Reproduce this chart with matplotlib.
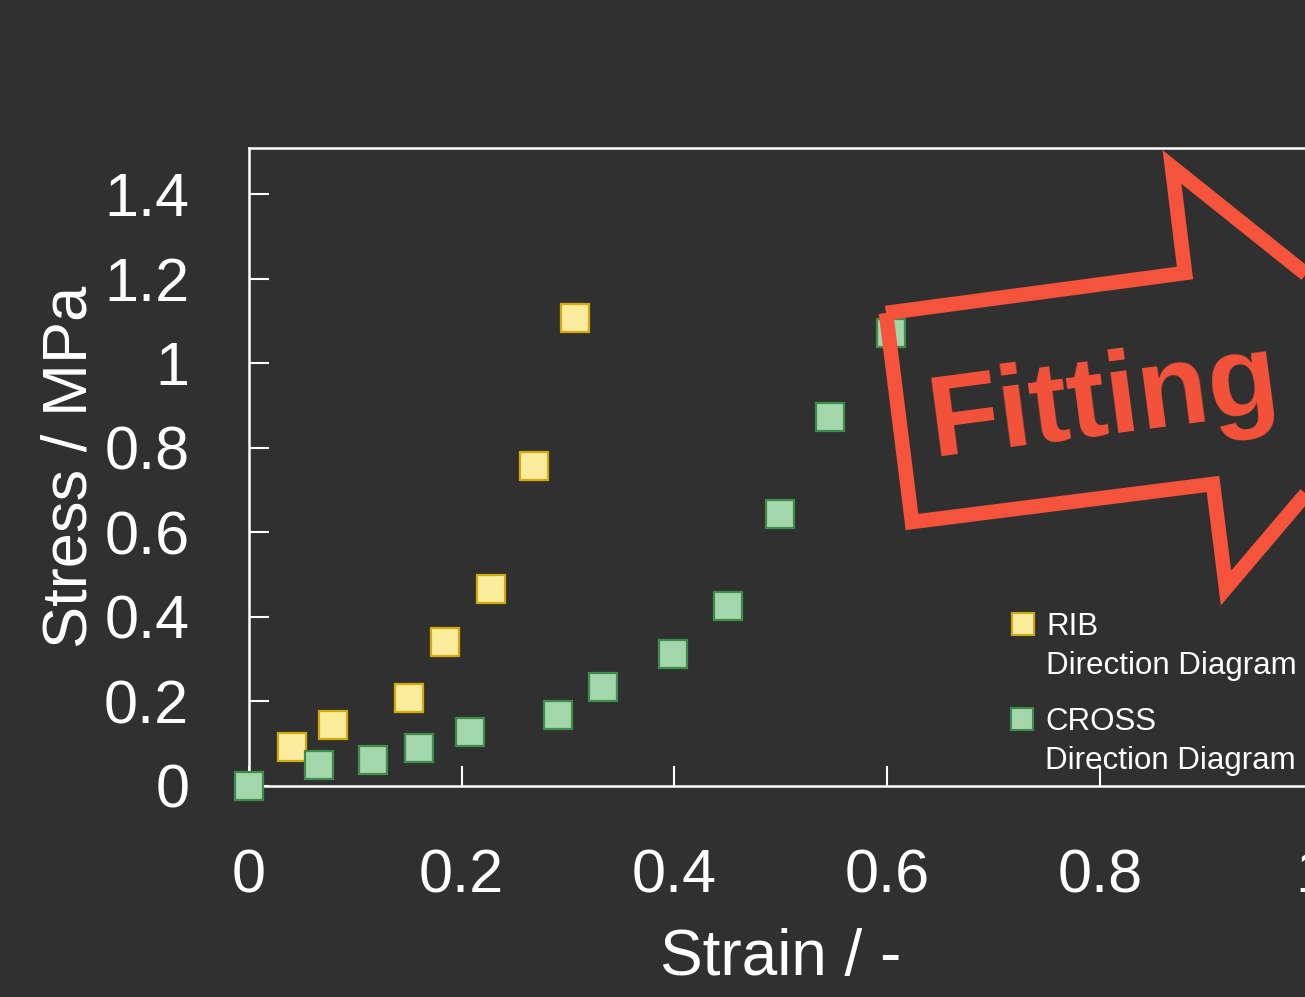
import matplotlib
matplotlib.use('Agg')
import matplotlib.pyplot as plt
import numpy as np
from matplotlib.lines import Line2D
from matplotlib.patches import Polygon

plt.rcParams['font.family'] = ['Liberation Sans', 'DejaVu Sans']

# RIB direction data
rib_strain = [0.040, 0.079, 0.150, 0.184, 0.228, 0.268, 0.307]
rib_stress = [0.092, 0.144, 0.208, 0.341, 0.466, 0.757, 1.108]

# CROSS direction data
cross_strain = [0.000, 0.066, 0.117, 0.160, 0.208, 0.291, 0.333, 0.399, 0.450, 0.499, 0.546, 0.604]
cross_stress = [0.000, 0.050, 0.061, 0.089, 0.128, 0.169, 0.234, 0.312, 0.426, 0.644, 0.874, 1.072]

x_ticks = [0, 0.2, 0.4, 0.6, 0.8, 1.0]
x_tick_labels = ['0', '0.2', '0.4', '0.6', '0.8', '1']
y_ticks = [0, 0.2, 0.4, 0.6, 0.8, 1.0, 1.2, 1.4]
y_tick_labels = ['0', '0.2', '0.4', '0.6', '0.8', '1', '1.2', '1.4']

bg = '#303030'
rib_face, rib_edge = '#fcec9e', '#d4a90a'
cross_face, cross_edge = '#a3d6ab', '#3e8c4b'
red = '#f5533b'

W, H = 1305, 997
fig = plt.figure(figsize=(W / 100, H / 100), dpi=100, facecolor=bg)
ax = fig.add_axes([249 / W, 1 - 786 / H, 1063.5 / W, 638 / H])
ax.set_facecolor(bg)

ax.plot(rib_strain, rib_stress, 's', ms=19.5, mfc=rib_face, mec=rib_edge, mew=1.6,
        clip_on=False, zorder=3)
ax.plot(cross_strain, cross_stress, 's', ms=19.5, mfc=cross_face, mec=cross_edge, mew=1.6,
        clip_on=False, zorder=3)

ax.set_xlim(0, 1.0)
ax.set_ylim(0, 1.51)
ax.set_xticks(x_ticks)
ax.set_xticklabels(x_tick_labels)
ax.set_yticks(y_ticks)
ax.set_yticklabels(y_tick_labels)

for s in ax.spines.values():
    s.set_color('white')
    s.set_linewidth(1.8)
ax.tick_params(direction='in', length=14.4, width=1.5, colors='white', labelsize=44)
ax.tick_params(axis='x', pad=45)
ax.tick_params(axis='y', pad=43)

ax.set_xlabel('Strain / -', fontsize=46, color='white')
ax.set_ylabel('Stress / MPa', fontsize=45.5, color='white')
ax.xaxis.set_label_coords(0.5, -0.222)
ax.yaxis.set_label_coords(-0.141, 0.5)

# legends, one per series
blank = Line2D([], [], linestyle='none', marker=None)
leg_kw = dict(loc='upper left', frameon=False, fontsize=22.5, borderpad=0, borderaxespad=0,
              handlelength=0.76, handletextpad=0.36, labelspacing=0.30, labelcolor='white',
              bbox_transform=fig.transFigure)
h_rib = Line2D([], [], linestyle='none', marker='s', ms=16, mfc=rib_face, mec=rib_edge, mew=1.5)
h_cross = Line2D([], [], linestyle='none', marker='s', ms=16, mfc=cross_face, mec=cross_edge, mew=1.5)
leg1 = ax.legend([h_rib, blank], ['RIB', 'Direction Diagram'],
                 bbox_to_anchor=(1011 / W, 1 - 612 / H), **leg_kw)
ax.add_artist(leg1)
ax.legend([h_cross, blank], ['CROSS', 'Direction Diagram'],
          bbox_to_anchor=(1010 / W, 1 - 707 / H), **leg_kw)

# "Fitting" arrow callout
arrow_px = [(886, 313), (1185, 273), (1172, 167), (1417, 363),
            (1226, 588), (1213, 484), (912, 522)]
arrow_pts = [(x / W, 1 - y / H) for x, y in arrow_px]
fig.patches.append(Polygon(arrow_pts, closed=True, fill=False, edgecolor=red, linewidth=10.5,
                           joinstyle='miter', transform=fig.transFigure, zorder=5))
fig.text(1104 / W, 1 - 403 / H, 'Fitting', fontsize=83, fontweight='bold', color=red,
         rotation=7.5, ha='center', va='center', rotation_mode='anchor', zorder=6)

fig.savefig('out.png', dpi=100, facecolor=bg)
